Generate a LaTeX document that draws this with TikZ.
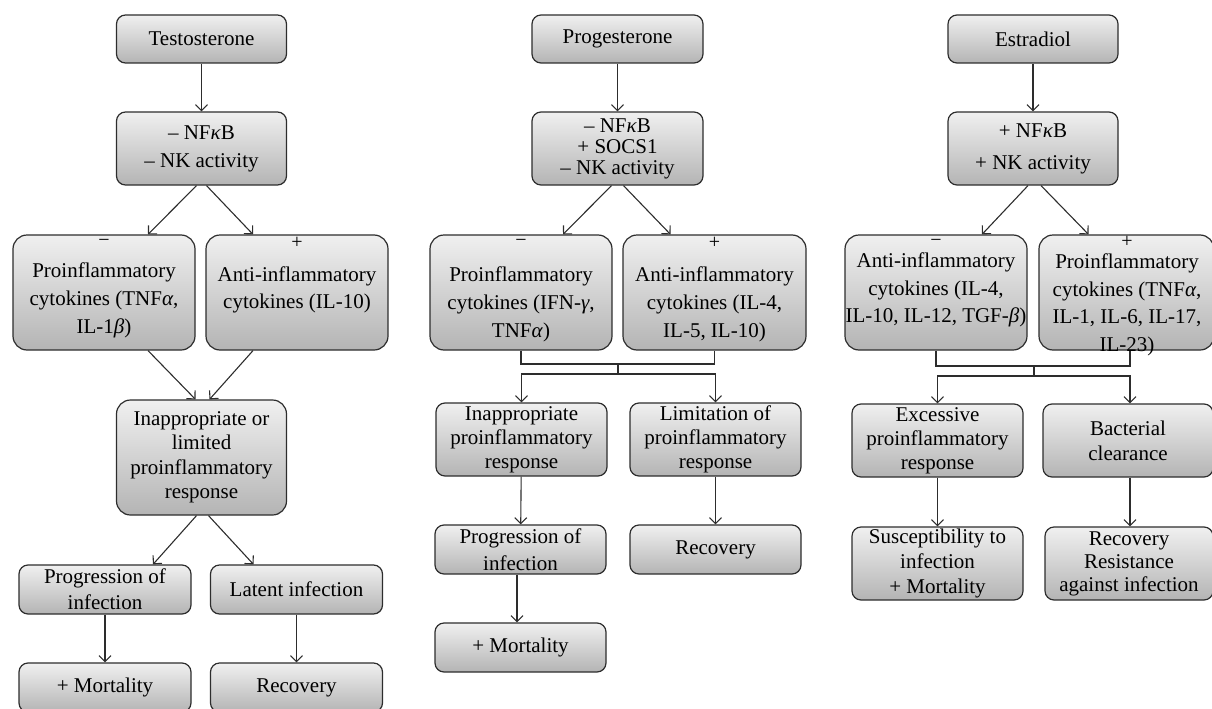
\documentclass[tikz,border=0pt]{standalone}
\usepackage{fontspec}
\setmainfont{Liberation Serif}
\usetikzlibrary{arrows.meta,positioning}
\definecolor{boxtop}{RGB}{240,240,240}
\definecolor{boxbot}{RGB}{180,180,180}
\definecolor{edge}{RGB}{45,45,45}
\begin{document}
\begin{tikzpicture}[x=1pt,y=-1pt,
  base/.style={draw=edge, line width=1.2pt, top color=boxtop, bottom color=boxbot, align=center, inner sep=0pt},
  sbox/.style={base, rounded corners=9pt, minimum width=#1},
  tbox/.style={base, rounded corners=14pt, minimum width=#1, minimum height=115pt},
  ls/.style={font=\fontsize{21}{#1}\selectfont, align=center},
  sign/.style={font=\fontsize{20}{22}\selectfont, inner sep=0pt},
  arr/.style={draw=edge, line width=1.1pt, -{Straight Barb[length=6pt,width=12pt]}},
  ln/.style={draw=edge, line width=1.1pt}]
\useasboundingbox (0,0) rectangle (1212,709);

% ---------------- Testosterone ----------------
\node[sbox=170, minimum height=48pt, ls=26] (t0) at (201.5,39) {Testosterone};
\node[sbox=170, minimum height=73pt, ls=28] (t1) at (201.5,148.5) {– NF\textit{κ}B\\– NK activity};
\node[tbox=182] (t2) at (104,292.5) {};
\node[ls=28] (t2t) at (104,300) {Proinflammatory\\cytokines (TNF\textit{α},\\IL-1\textit{β})};
\node[sign] (t2s) at (104,243) {−};
\node[tbox=182] (t3) at (297,292.5) {};
\node[ls=27] (t3t) at (297,289.5) {Anti-inflammatory\\cytokines (IL-10)};
\node[sign] (t3s) at (297,243) {+};
\node[tbox=170, ls=24.5] (t4) at (201.5,457.5) {Inappropriate or\\limited\\proinflammatory\\response};
\node[sbox=172, minimum height=49pt, ls=26] (t5) at (105,589.5) {Progression of\\infection};
\node[sbox=172, minimum height=49pt, ls=26] (t6) at (296.5,589.5) {Latent infection};
\node[sbox=172, minimum height=49pt, ls=26] (t7) at (105,687.5) {+ Mortality};
\node[sbox=172, minimum height=49pt, ls=26] (t8) at (296.5,687.5) {Recovery};

\draw[arr] (t0) -- (t1);
\draw[arr] ([xshift=-5pt]t1.south) -- ([xshift=44pt]t2.north);
\draw[arr] ([xshift=5pt]t1.south) -- ([xshift=-44pt]t3.north);
\draw[arr] ([xshift=44pt]t2.south) -- ([xshift=-6pt]t4.north);
\draw[arr] ([xshift=-44pt]t3.south) -- ([xshift=8pt]t4.north);
\draw[arr] ([xshift=-5pt]t4.south) -- ([xshift=48pt]t5.north);
\draw[arr] ([xshift=7pt]t4.south) -- ([xshift=-43pt]t6.north);
\draw[arr] (t5) -- (t7);
\draw[arr] (t6) -- (t8);

% ---------------- Progesterone ----------------
\node[sbox=171, minimum height=48pt, ls=26] (p0) at (617.5,39) {Progesterone};
\node[sbox=171, minimum height=73pt, ls=21] (p1) at (617.5,148.5) {– NF\textit{κ}B\\+ SOCS1\\– NK activity};
\node[tbox=182] (p2) at (521,292.5) {};
\node[ls=28] (p2t) at (521,304) {Proinflammatory\\cytokines (IFN-\textit{γ},\\TNF\textit{α})};
\node[sign] (p2s) at (521,243) {−};
\node[tbox=183] (p3) at (714.5,292.5) {};
\node[ls=28] (p3t) at (714.5,304) {Anti-inflammatory\\cytokines (IL-4,\\IL-5, IL-10)};
\node[sign] (p3s) at (714.5,243) {+};
\node[sbox=171, minimum height=73pt, ls=24] (p4) at (521.5,439.5) {Inappropriate\\proinflammatory\\response};
\node[sbox=171, minimum height=73pt, ls=24] (p5) at (715.5,439.5) {Limitation of\\proinflammatory\\response};
\node[sbox=171, minimum height=49pt, ls=27] (p6) at (520.5,549.5) {Progression of\\infection};
\node[sbox=171, minimum height=49pt, ls=26] (p7) at (715.5,549.5) {Recovery};
\node[sbox=171, minimum height=49pt, ls=26] (p8) at (520.5,647.5) {+ Mortality};

\draw[arr] (p0) -- (p1);
\draw[arr] ([xshift=-6pt]p1.south) -- ([xshift=42pt]p2.north);
\draw[arr] ([xshift=6pt]p1.south) -- ([xshift=-44pt]p3.north);
\coordinate (pj) at (618,364);
\coordinate (pk) at (618,374);
\draw[ln] (p2.south) |- (pj) -| (p3.south);
\draw[ln] (pj) -- (pk);
\draw[arr] (pk) -| (p4.north);
\draw[arr] (pk) -| (p5.north);
\draw[arr] (p4) -- (p6);
\draw[arr] (p5) -- (p7);
\draw[arr] ([xshift=-3.5pt]p6.south) -- ([xshift=-3.5pt]p8.north);

% ---------------- Estradiol ----------------
\node[sbox=170, minimum height=48pt, ls=26] (e0) at (1033,39) {Estradiol};
\node[sbox=170, minimum height=73pt, ls=32] (e1) at (1033,148.5) {+ NF\textit{κ}B\\+ NK activity};
\node[tbox=182] (e2) at (936,292.5) {};
\node[ls=27.5] (e2t) at (936,290) {Anti-inflammatory\\cytokines (IL-4,\\IL-10, IL-12, TGF-\textit{β})};
\node[sign] (e2s) at (936,243) {−};
\node[tbox=175] (e3) at (1126.5,292.5) {};
\node[ls=27.5] (e3t) at (1127,305) {Proinflammatory\\cytokines (TNF\textit{α},\\IL-1, IL-6, IL-17,\\IL-23)};
\node[sign] (e3s) at (1127,242) {+};
\node[sbox=171, minimum height=73pt, ls=24] (e4) at (937.5,440.5) {Excessive\\proinflammatory\\response};
\node[sbox=170, minimum height=73pt, ls=25] (e5) at (1128,440.5) {Bacterial\\clearance};
\node[sbox=171, minimum height=73pt, ls=25] (e6) at (937.5,563.5) {Susceptibility to\\infection\\+ Mortality};
\node[sbox=168, minimum height=73pt, ls=23] (e7) at (1129,563.5) {Recovery\\Resistance\\against infection};

\draw[arr] (e0) -- (e1);
\draw[arr] ([xshift=-5pt]e1.south) -- ([xshift=46pt]e2.north);
\draw[arr] ([xshift=8pt]e1.south) -- ([xshift=-38pt]e3.north);
\coordinate (ej) at (1034,366);
\coordinate (ek) at (1034,376);
\draw[ln] (e2.south) |- (ej) -| ([xshift=3.5pt]e3.south);
\draw[ln] (ej) -- (ek);
\draw[arr] (ek) -| (e4.north);
\draw[arr] (ek) -| ([xshift=2pt]e5.north);
\draw[arr] (e4) -- (e6);
\draw[arr] ([xshift=2pt]e5.south) -- ([xshift=1pt]e7.north);
\end{tikzpicture}
\end{document}
